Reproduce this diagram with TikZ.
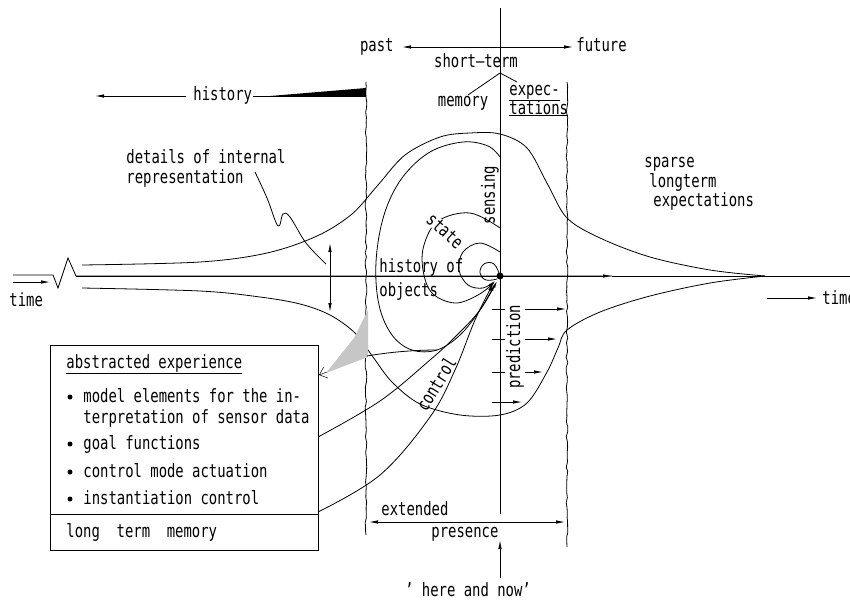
\documentclass[tikz,border=0pt]{standalone}
\usepackage{fontspec}
\setmainfont{DejaVu Sans Mono}[FakeStretch=0.76]
\usetikzlibrary{arrows.meta,positioning,decorations.pathmorphing}

\begin{document}
\begin{tikzpicture}[x=1pt, y=-1pt, line width=0.8pt,
  >={Latex[length=9pt,width=3.5pt]},
  every node/.style={font=\fontsize{18.3}{20}\selectfont, inner sep=1pt},
  lbl/.style={anchor=base west},
  border/.style={decorate, decoration={random steps, segment length=5pt, amplitude=0.8pt}},
  curve/.style={line width=0.8pt},
  smallarr/.style={-{Latex[length=7pt,width=3pt]}}]
\useasboundingbox (0,0) rectangle (850,602);
\pgfmathsetseed{7}

% time axis
\coordinate (ax0) at (13,275);
\coordinate (axmid) at (612,276);
\coordinate (axend) at (850,276);
\draw (ax0) -- (53,275) -- (58,288) -- (68,258) -- (76,276) -- (axmid);
\draw[->] (76,276) -- (axmid);
\draw (axmid) -- (axend);
\node[lbl] (timeL) at (8,306) {time};
\node[lbl] (timeR) at (821,304) {time};
\coordinate (tl0) at (13,282); \coordinate (tl1) at (50,282);
\coordinate (tr0) at (767,298); \coordinate (tr1) at (817,298);
\draw[->] (tl0) -- (tl1);
\draw[->] (tr0) -- (tr1);

% now line and borders of the extended presence
\coordinate (nowtop) at (500,8);
\coordinate (nowbot) at (500,514);
\draw (nowtop) -- (nowbot);
\draw[border] (366,82) -- (366,535);
\draw[border] (567,82) -- (567,547);
\node[circle, fill, inner sep=0pt, minimum size=7pt] (now) at (500,276) {};

% top labels
\node[anchor=base east] (past) at (395,52) {past};
\node[lbl] (future) at (575,52) {future};
\coordinate (pl) at (402,47); \coordinate (fr) at (573,47);
\draw[<->] (pl) -- (fr);
\node[anchor=base] (short) at (476,67) {short--term};
\node[anchor=base] (memory) at (463,106) {memory};
\node[lbl] (expec) at (508,95) {\underline{expec-}};
\node[lbl] (tations) at (508,114) {\underline{tations}};
\coordinate (st) at (500,73);
\draw (st) -- (468,95);
\draw (st) -- (517,82);

% history
\node[lbl] (history) at (192,100) {history};
\coordinate (hl) at (95,96); \coordinate (hr) at (366,96);
\draw[->] (history.west |- hl) ++(-6,0) -- (hl);
\draw (history.east |- hr) -- (hr);
\fill (270,96) -- (366,88) -- (366,96) -- cycle;

% details of internal representation
\node[lbl] (details) at (125,163) {details of internal};
\node[lbl] (repr) at (125,183) {representation};
\draw plot[smooth, tension=0.6] coordinates {(255,172) (267,198) (278,226) (283,214) (290,217) (306,243) (326,264)};
\draw[<->] (330,243) -- (330,312);

% envelope of the internal representation
\draw[curve] plot[smooth, tension=0.55] coordinates {(82,265) (200,262) (267,253) (317,236) (352,214) (378,185) (405,155) (440,137) (470,133) (500,134) (527,148) (548,185) (567,218) (600,238) (650,257) (710,270) (765,276)};
\draw[curve] plot[smooth, tension=0.55] coordinates {(82,288) (200,291) (260,297) (300,304) (330,315) (355,333) (373,357) (392,382) (420,404) (460,415) (500,415) (527,403) (547,372) (558,348) (567,330) (600,312) (650,296) (710,283) (765,276)};

\node[lbl] (sparse) at (643,167) {sparse};
\node[lbl] (longterm) at (648,187) {longterm};
\node[lbl] (expect) at (652,206) {expectations};

% loops around the present
\draw[smallarr] plot[smooth, tension=0.6] coordinates {(500,157) (488,146) (463,142) (430,152) (402,178) (384,215) (376,262) (379,305) (392,335) (412,350) (437,350) (460,335) (480,310) (495,284)};
\draw[smallarr] plot[smooth, tension=0.6] coordinates {(500,228) (470,213) (438,221) (424,245) (423,270) (432,293) (455,303) (478,295) (495,282)};
\draw[smallarr] plot[smooth, tension=0.6] coordinates {(500,252) (480,243) (463,252) (459,270) (468,285) (483,288) (495,281)};
\draw plot[smooth, tension=0.7] coordinates {(500,276) (494,264) (484,264) (480,273) (486,280) (497,279)};
\node[fill=white, inner sep=0pt, rotate=-42] (state) at (445,231) {state};
\node[rotate=90] (sensing) at (490,195) {sensing};
\node[lbl] (histof) at (378,272) {history of};
\node[lbl] (objects) at (378,296) {objects};

% long term memory
\node[draw, anchor=north west, minimum width=268pt, minimum height=169pt] (abstr) at (50,345) {};
\node[draw, anchor=north west, minimum width=268pt, minimum height=36pt] (ltm) at (50,514) {};
\node[lbl] (abtitle) at (65,368) {\underline{abstracted experience}};
\foreach \t/\y in {model elements for the in-/402, goal functions/449, control mode actuation/477, instantiation control/504}
  \node[lbl] at (82,\y) {\t} node[circle, fill, inner sep=0pt, minimum size=5pt] at (70,\y-5) {};
\node[lbl] (interp) at (82,423) {terpretation of sensor data};
\node[lbl] (ltmtext) at (65,537) {long\ \ term\ \ memory};

% abstraction of past experience
\fill[gray!45] (368,310) -- (368,357) -- (326,373) -- (354,338) -- cycle;
\coordinate (wtip) at (327,372);
\coordinate (wend) at (319,375);
\draw[-{Straight Barb[length=7pt,width=12pt]}, line width=0.5pt] (wtip) -- (wend);
\draw (367,356) .. controls (390,352) and (415,350) .. (437,350);

% control
\coordinate (c1) at (318,437);
\coordinate (c2) at (318,512);
\draw[smallarr] plot[smooth, tension=0.6] coordinates {(c1) (380,401) (430,360) (455,337) (480,310) (497,281)};
\draw[smallarr] plot[smooth, tension=0.6] coordinates {(c2) (380,475) (430,417) (455,370) (475,320) (493,284)};
\node[rotate=58] (control) at (436,384) {control};

% prediction
\foreach \y/\tx in {309/566, 339/557, 372/543, 402/522} {
  \draw (492,\y) -- (506,\y);
  \draw[->] (506,\y) -- (\tx,\y);
}
\node[fill=white, rotate=90] (pred) at (515,347) {prediction};

% extended presence
\node[lbl] (extended) at (380,515) {extended};
\node[lbl] (presence) at (430,537) {presence};
\coordinate (xl) at (369,522); \coordinate (xr) at (565,522);
\draw[<->] (xl) -- (xr);
\node[anchor=base] (here) at (468,596) {’ here and now’};
\coordinate (hn0) at (500,578); \coordinate (hn1) at (500,540);
\draw[->] (hn0) -- (hn1);
\end{tikzpicture}
\end{document}
